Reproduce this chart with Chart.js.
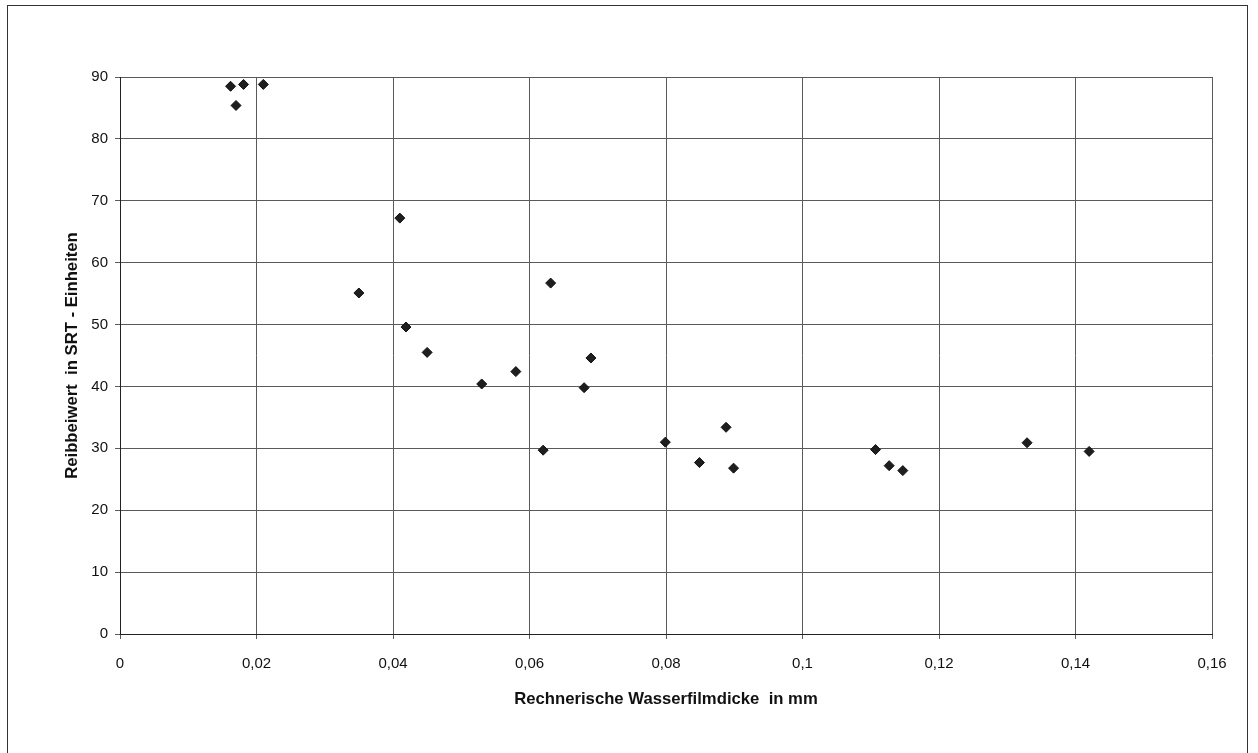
<!DOCTYPE html>
<html>
<head>
<meta charset="utf-8">
<script src="https://cdn.jsdelivr.net/npm/chart.js@4/dist/chart.umd.min.js"></script>
<style>
  html, body { margin: 0; padding: 0; background: #fff; }
  canvas { display: block; }
</style>
</head>
<body>
<canvas id="chart" width="1258" height="753"></canvas>
<script>
// Wasserfilmdicke (mm) gegen Reibbeiwert (SRT)
const filmThickness = [0.0162, 0.0170, 0.0181, 0.0210, 0.0350, 0.0410, 0.0419, 0.0450,
  0.0530, 0.0580, 0.0620, 0.0631, 0.0680, 0.0690, 0.0799, 0.0849, 0.0888, 0.0899,
  0.1107, 0.1127, 0.1147, 0.1329, 0.1420];
const srtValues = [88.5, 85.4, 88.8, 88.8, 55.1, 67.2, 49.6, 45.5,
  40.4, 42.4, 29.7, 56.7, 39.8, 44.6, 31.0, 27.7, 33.4, 26.8,
  29.8, 27.2, 26.4, 30.9, 29.5];
const xTicks = [0, 0.02, 0.04, 0.06, 0.08, 0.1, 0.12, 0.14, 0.16];
const yTicks = [0, 10, 20, 30, 40, 50, 60, 70, 80, 90];

const points = filmThickness.map((x, i) => ({ x: x, y: srtValues[i] }));

// Rahmen um das ganze Diagramm
const frame = {
  id: 'frame',
  beforeDraw(chart) {
    const c = chart.ctx;
    c.save();
    c.fillStyle = '#fff';
    c.fillRect(0, 0, chart.width, chart.height);
    c.strokeStyle = '#333';
    c.lineWidth = 1;
    c.strokeRect(7.5, 5.5, 1240, 800);
    c.restore();
  }
};

const fmt = v => String(parseFloat(Number(v).toFixed(2))).replace('.', ',');
const tickFont = { family: 'Liberation Sans', size: 15 };
const titleFont = { family: 'Liberation Sans', size: 16.7, weight: 'bold' };

new Chart(document.getElementById('chart'), {
  type: 'scatter',
  data: {
    datasets: [{
      data: points,
      pointStyle: 'rectRot',
      pointRadius: 5,
      backgroundColor: '#1e1e1e',
      borderColor: '#111',
      borderWidth: 1
    }]
  },
  options: {
    responsive: false,
    animation: false,
    devicePixelRatio: 1,
    layout: { padding: { left: 62, top: 77, right: 46, bottom: 44 } },
    plugins: { legend: { display: false }, tooltip: { enabled: false } },
    scales: {
      x: {
        type: 'linear',
        min: 0, max: 0.16,
        afterBuildTicks: s => { s.ticks = xTicks.map(v => ({ value: v })); },
        afterFit: s => { s.height = 75; },
        grid: { color: '#5a5a5a', lineWidth: 1, tickLength: 5 },
        border: { color: '#222', width: 1 },
        ticks: { color: '#111', font: tickFont, padding: 16, maxRotation: 0, autoSkip: false, callback: v => fmt(v) },
        title: { display: true, text: 'Rechnerische Wasserfilmdicke  in mm', color: '#111', font: titleFont, padding: 0 }
      },
      y: {
        min: 0, max: 90,
        afterBuildTicks: s => { s.ticks = yTicks.map(v => ({ value: v })); },
        afterFit: s => { s.width = 58; },
        grid: { color: '#5a5a5a', lineWidth: 1, tickLength: 5 },
        border: { color: '#222', width: 1 },
        ticks: { color: '#111', font: tickFont, padding: 7, autoSkip: false, callback: v => fmt(v) },
        title: { display: true, text: 'Reibbeiwert  in SRT - Einheiten', color: '#111', font: titleFont, padding: 0 }
      }
    }
  },
  plugins: [frame]
});
</script>
</body>
</html>
